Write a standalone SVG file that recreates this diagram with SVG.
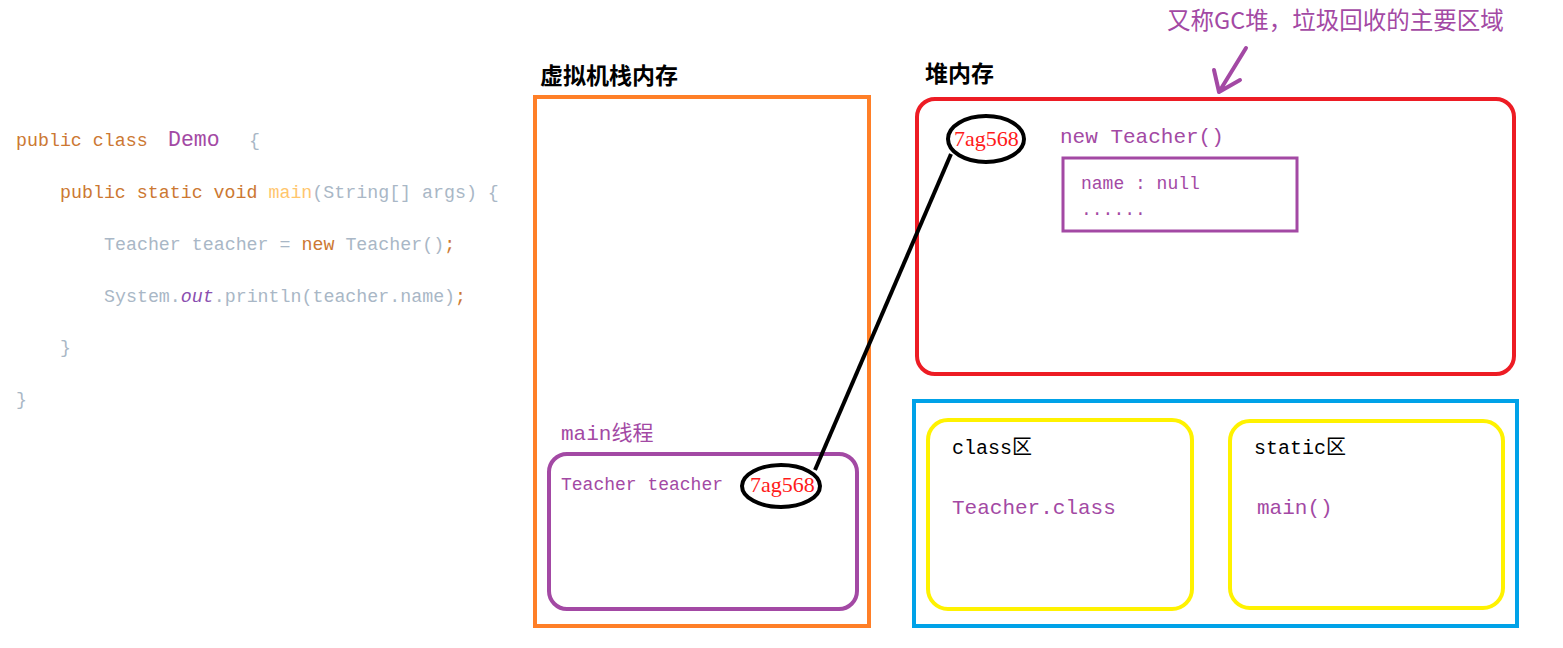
<svg xmlns="http://www.w3.org/2000/svg" width="1563" height="648" viewBox="0 0 1563 648">
<style>
.code{font-family:"Liberation Mono",monospace;font-size:18.3px;fill:#a9b7c6}
.kw{fill:#cc7832}
.mn{fill:#ffc66d}
.pu{fill:#a349a4}
.mono{font-family:"Liberation Mono","Noto Sans CJK SC",monospace}
.ttl{font-family:"Noto Sans CJK SC",sans-serif;font-weight:bold;fill:#000}
.addr{font-family:"Liberation Serif",serif;font-size:22px;fill:#ff1a1a}
.ell{fill:none;stroke:#000;stroke-width:4}
</style>
<rect width="1563" height="648" fill="#fff"/>
<g id="code">
<text class="code" x="16" y="146" xml:space="preserve"><tspan class="kw">public class </tspan><tspan x="168" class="pu" style="font-size:21.5px">Demo</tspan><tspan x="249">{</tspan></text>
<text class="code" x="60" y="198" xml:space="preserve"><tspan class="kw">public static void </tspan><tspan class="mn">main</tspan>(String[] args) {</text>
<text class="code" x="104" y="250" xml:space="preserve">Teacher teacher = <tspan class="kw">new</tspan> Teacher()<tspan class="kw">;</tspan></text>
<text class="code" x="104" y="302" xml:space="preserve">System.<tspan style="fill:#8a4fb0;font-style:italic">out</tspan>.println(teacher.name)<tspan class="kw">;</tspan></text>
<text class="code" x="60" y="353">}</text>
<text class="code" x="16" y="405">}</text>
</g>
<g id="stack">
<text class="ttl" x="540" y="84" font-size="23">虚拟机栈内存</text>
<rect x="535" y="97" width="334" height="529" fill="none" stroke="#ff7f27" stroke-width="4"/>
</g>
<g id="main-thread">
<text class="mono pu" x="561" y="440" font-size="21">main线程</text>
<rect x="549" y="454" width="308" height="155" rx="18" fill="none" stroke="#a349a4" stroke-width="4"/>
<text class="mono pu" x="561" y="490" font-size="18">Teacher teacher</text>
<ellipse class="ell" cx="781" cy="486" rx="39" ry="21"/>
<text class="addr" x="750" y="492">7ag568</text>
</g>
<g id="heap">
<text class="ttl" x="925" y="82" font-size="23">堆内存</text>
<rect x="917" y="99" width="597" height="275" rx="18" fill="none" stroke="#ed1c24" stroke-width="4"/>
<ellipse class="ell" cx="986" cy="139" rx="38" ry="23"/>
<text class="addr" x="954" y="146">7ag568</text>
<text class="mono pu" x="1060" y="143" font-size="21">new Teacher()</text>
<rect x="1063" y="158" width="234" height="73" fill="none" stroke="#a349a4" stroke-width="3"/>
<text class="mono pu" x="1081" y="189" font-size="18">name : null</text>
<text class="mono pu" x="1081" y="215" font-size="18">......</text>
</g>
<g id="annotation">
<text x="1167" y="29" font-family="Noto Sans CJK SC,sans-serif" font-size="23.5" fill="#a349a4">又称GC堆，垃圾回收的主要区域</text>
<path d="M1246 48 L1219 92 M1214 70 L1219 92 L1240 80" fill="none" stroke="#a349a4" stroke-width="4" stroke-linecap="round" stroke-linejoin="round"/>
</g>
<g id="method-area">
<rect x="914" y="401" width="603" height="225" fill="none" stroke="#00a2e8" stroke-width="4"/>
</g>
<g id="class-area">
<rect x="928" y="420" width="264" height="189" rx="20" fill="none" stroke="#fff200" stroke-width="4"/>
<text class="mono" x="952" y="454" font-size="20" fill="#000">class区</text>
<text class="mono pu" x="952" y="514" font-size="21">Teacher.class</text>
</g>
<g id="static-area">
<rect x="1230" y="421" width="273" height="187" rx="20" fill="none" stroke="#fff200" stroke-width="4"/>
<text class="mono" x="1254" y="454" font-size="20" fill="#000">static区</text>
<text class="mono pu" x="1257" y="514" font-size="21">main()</text>
</g>
<g id="connectors">
<line x1="951" y1="154" x2="815" y2="470" stroke="#000" stroke-width="4"/>
</g>
</svg>
